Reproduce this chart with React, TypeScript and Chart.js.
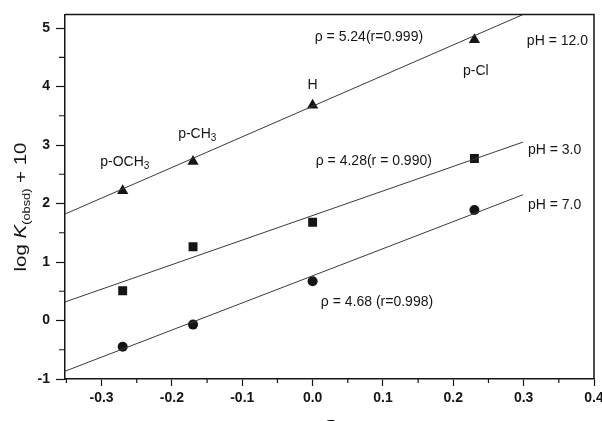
import React, { useEffect, useRef } from 'react';
import { Chart, registerables } from 'chart.js';
Chart.register(...registerables);

// ---- data ----
const sigma = [-0.27, -0.17, 0.0, 0.23];
const pH12 = [2.22, 2.72, 3.68, 4.8];
const pH3 = [0.51, 1.26, 1.68, 2.77];
const pH7 = [-0.45, -0.07, 0.67, 1.89];

const fitX = [-0.352, 0.299];
const fit12 = [1.82, 5.23];
const fit3 = [0.317, 3.05];
const fit7 = [-0.867, 2.15];

const xTickValues = [-0.3, -0.2, -0.1, 0.0, 0.1, 0.2, 0.3, 0.4];
const xMinorValues = [-0.35, -0.25, -0.15, -0.05, 0.05, 0.15, 0.25, 0.35];
const yTickValues = [-1, 0, 1, 2, 3, 4, 5];
const yMinorValues = [-0.5, 0.5, 1.5, 2.5, 3.5, 4.5];

const noteText = ['ρ = 5.24(r=0.999)', 'pH = 12.0', 'p-Cl', 'H', 'p-CH', 'p-OCH', 'ρ = 4.28(r = 0.990)', 'pH = 3.0', 'pH = 7.0', 'ρ = 4.68 (r=0.998)'];
const noteSub = ['', '', '', '', '3', '3', '', '', '', ''];
const noteX = [0.080, 0.348, 0.232, 0.0, -0.164, -0.267, 0.087, 0.344, 0.344, 0.0915];
const noteY = [4.85, 4.77, 4.27, 4.02, 3.18, 2.70, 2.73, 2.92, 1.97, 0.32];

const FONT = '"Liberation Sans", Arial, sans-serif';
const INK = '#151515';

const toPts = (xs: number[], ys: number[]) => xs.map((x, i) => ({ x, y: ys[i] }));

const decor = {
  id: 'decor',
  afterDraw(chart: any) {
    const { ctx, chartArea: a, scales } = chart;
    const x = scales.x, y = scales.y;
    ctx.save();
    // top & right frame
    ctx.strokeStyle = INK;
    ctx.lineWidth = 1.5;
    ctx.beginPath();
    ctx.moveTo(a.left, a.top);
    ctx.lineTo(a.right, a.top);
    ctx.lineTo(a.right, a.bottom);
    ctx.stroke();
    // minor ticks
    ctx.lineWidth = 1.2;
    ctx.beginPath();
    xMinorValues.forEach((v) => {
      const px = x.getPixelForValue(v);
      ctx.moveTo(px, a.bottom);
      ctx.lineTo(px, a.bottom + 4);
    });
    yMinorValues.forEach((v) => {
      const py = y.getPixelForValue(v);
      ctx.moveTo(a.left, py);
      ctx.lineTo(a.left - 6, py);
    });
    ctx.stroke();

    // annotations
    ctx.fillStyle = INK;
    ctx.textBaseline = 'middle';
    ctx.textAlign = 'left';
    noteText.forEach((t, i) => {
      const main = `14px ${FONT}`;
      const sub = `10px ${FONT}`;
      ctx.font = main;
      const w1 = ctx.measureText(t).width;
      ctx.font = sub;
      const w2 = noteSub[i] ? ctx.measureText(noteSub[i]).width : 0;
      const cx = x.getPixelForValue(noteX[i]);
      const cy = y.getPixelForValue(noteY[i]);
      const sx = cx - (w1 + w2) / 2;
      ctx.font = main;
      ctx.fillText(t, sx, cy);
      if (noteSub[i]) {
        ctx.font = sub;
        ctx.fillText(noteSub[i], sx + w1, cy + 4);
      }
    });

    // y title
    ctx.save();
    ctx.translate(26, 207);
    ctx.rotate(-Math.PI / 2);
    ctx.textBaseline = 'alphabetic';
    const parts = [
      { t: 'log ', f: `16px ${FONT}`, dy: 0 },
      { t: 'K', f: `italic 16px ${FONT}`, dy: 0 },
      { t: '(obsd)', f: `10px ${FONT}`, dy: 4 },
      { t: ' + 10', f: `16px ${FONT}`, dy: 0 },
    ];
    let W = 0;
    parts.forEach((p) => { ctx.font = p.f; W += ctx.measureText(p.t).width; });
    const s = 129 / W;
    ctx.scale(s, 1);
    let cur = -W / 2;
    parts.forEach((p) => {
      ctx.font = p.f;
      ctx.fillText(p.t, cur, p.dy);
      cur += ctx.measureText(p.t).width;
    });
    ctx.restore();

    // x title
    ctx.font = `17px ${FONT}`;
    ctx.textAlign = 'center';
    ctx.textBaseline = 'top';
    ctx.fillText('σ', (a.left + a.right) / 2, 416);
    ctx.restore();
  },
};

export default function App() {
  const ref = useRef<HTMLCanvasElement | null>(null);
  useEffect(() => {
    if (!ref.current) return;
    const lineStyle = { borderColor: '#3a3a3a', borderWidth: 1, pointRadius: 0, showLine: true, fill: false };
    const chart = new Chart(ref.current, {
      type: 'scatter',
      data: {
        datasets: [
          { data: toPts(fitX, fit12), ...lineStyle },
          { data: toPts(fitX, fit3), ...lineStyle },
          { data: toPts(fitX, fit7), ...lineStyle },
          { data: toPts(sigma, pH12), pointStyle: 'triangle', pointRadius: 6.5, backgroundColor: INK, borderColor: INK, borderWidth: 0 },
          { data: toPts(sigma, pH3), pointStyle: 'rect', pointRadius: 6.3, backgroundColor: INK, borderColor: INK, borderWidth: 0 },
          { data: toPts(sigma, pH7), pointStyle: 'circle', pointRadius: 5, backgroundColor: INK, borderColor: INK, borderWidth: 0 },
        ],
      } as any,
      options: {
        animation: false,
        responsive: false,
        maintainAspectRatio: false,
        events: [],
        layout: { padding: { top: 5, right: 26, left: 0, bottom: 0 } },
        plugins: { legend: { display: false }, tooltip: { enabled: false } },
        scales: {
          x: {
            type: 'linear',
            min: -0.352,
            max: 0.4,
            afterBuildTicks: (s: any) => { s.ticks = xTickValues.map((v) => ({ value: v })); },
            afterFit: (s: any) => { s.height = 61; },
            grid: { drawOnChartArea: false, tickLength: 7, tickColor: INK, tickWidth: 1.2 },
            border: { color: INK, width: 1.5 },
            ticks: {
              color: INK,
              padding: 4,
              maxRotation: 0,
              autoSkip: false,
              font: { family: FONT, size: 14, weight: 'bold' },
              callback: (v: any) => Number(v).toFixed(1),
            },
          },
          y: {
            type: 'linear',
            min: -1,
            max: 5.233,
            afterBuildTicks: (s: any) => { s.ticks = yTickValues.map((v) => ({ value: v })); },
            afterFit: (s: any) => { s.width = 65; },
            grid: { drawOnChartArea: false, tickLength: 9, tickColor: INK, tickWidth: 1.2 },
            border: { color: INK, width: 1.5 },
            ticks: {
              color: INK,
              padding: 6,
              autoSkip: false,
              font: { family: FONT, size: 14, weight: 'bold' },
              callback: (v: any) => String(v),
            },
          },
        },
      } as any,
      plugins: [decor],
    });
    return () => chart.destroy();
  }, []);
  return (
    <div style={{ position: 'fixed', left: 0, top: 0, width: 602, height: 421, overflow: 'hidden', background: '#fff' }}>
      <canvas ref={ref} width={620} height={440} style={{ display: 'block', width: 620, height: 440 }} />
    </div>
  );
}
